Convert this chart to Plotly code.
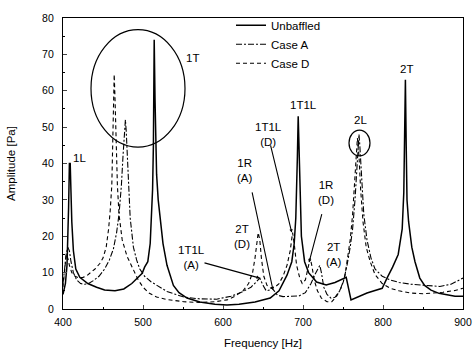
import plotly.graph_objects as go

unbaffled = [(400,4),(403,7),(405,12),(406,18),(407,28),(408,40),(409,40),(410,32),(411,24),(413,16),
             (416,11),(421,8.7),(431,7),(442,6),(452,5.2),(465,5),(476,5.5),(486,7),(493,8.5),(499,9.8),
             (502,11.5),(506,13),(509,18),(511,26),(512,33),(513,45),(514,74),(515,58),(516,45),(517,37),
             (519,30),(522,23),(525,18),(530,12),(534,9),(538,6.5),(545,4.5),(555,3),(571,1.9),(590,1.3),
             (605,1.1),(620,1.3),(640,1.9),(659,3),(670,5),(680,9.3),(686,13),(689,18),(691,25),(692,32),
             (693,42),(694,53),(695,44),(696,32),(698,20),(702,13),(707,10),(717,7.4),(729,6.6),(740,7.3),
             (748,8.2),(754,8.7),(760,2.5),(770,3.5),(780,4.4),(790,5.1),(799,5.7),(805,8.5),(812,11.5),(819,15),
             (824,22),(826,32),(827,45),(828,63),(829,45),(830,30),(832,24),(836,17),(840,13),(846,8.5),
             (852,6.5),(860,5.2),(870,4.3),(880,3.8),(890,3.5),(900,3.5)]

case_a = [(400,7),(402,11),(404,15),(406,17),(408,16),(410,13),(413,10),(417,8),(422,7),(427,6.8),
          (432,7),(438,7.8),(445,9),(452,11),(458,13.5),(463,16.5),(467,21),(470,26),(473,34),(475,42),
          (477,50),(478,52),(479,49),(481,38),(484,25),(488,17),(492,13.5),(496,11),(502,9),(510,7.5),
          (517,6.5),(530,4.8),(551,3.3),(570,2.8),(592,2.7),(610,3.5),(625,4.8),(635,6),(641,7.3),(646,8.5),
          (650,6.5),(654,5),(658,5.2),(661,5.8),(664,5),(668,3.8),(675,3.4),(685,3.4),(695,3.6),(703,4.5),
          (710,7),(715,9.5),(718,11),(721,12),(723,10),(726,6),(730,4),(735,3),(740,3.2),(746,5),
          (751,8),(755,12),(759,17),(762,22),(765,30),(767,37),(769,45),(770,48),(771,45),(773,36),
          (776,26),(780,19),(785,14),(790,11),(799,9),(809,8),(820,7.3),(835,6.8),(850,6.6),(871,6.2),
          (885,6.8),(895,7.8),(900,8.5)]

case_d = [(400,6),(402,10),(404,15),(406,14),(408,12),(411,10),(415,9),(420,8.5),(425,8.7),(430,9.2),
          (435,10),(440,11),(446,12.5),(450,14),(454,17),(457,22),(459,27),(461,34),(462,44),(463,56),
          (464,64.5),(465,58),(466,47),(468,34),(470,26),(474,19),(480,14.5),(488,11),(494,8),(500,6),
          (508,4.3),(517,3.3),(530,2.6),(551,2),(570,1.8),(590,2),(605,2.5),(615,3.5),(625,5),(632,7),
          (637,10),(640,14),(642,18),(644,21),(646,19),(648,14),(651,9),(655,6.5),(660,5.7),(665,6),
          (670,7),(675,9),(680,12),(684,16),(687,21),(689,18),(692,12),(696,8.5),(699,7),(703,8),
          (706,11),(709,14),(711,12),(714,8),(718,5),(723,3),(730,2),(736,2),(742,3.5),(748,6),
          (752,8.5),(756,14),(759,19),(762,26),(764,32),(766,40),(768,47),(770,42),(772,33),(775,24),
          (779,17),(784,13),(790,9.5),(799,7),(809,5.7),(820,5),(834,4.4),(850,4.2),(875,4.6),(890,5.1),
          (900,5.7)]

# mode labels: (text, freq, amplitude)
labels = [("1L", 420, 41.5), ("1T", 562, 69), ("1T1L", 701, 56), ("2L", 772, 52), ("2T", 829, 66),
          ("1T1L<br>(D)", 657, 48), ("1R<br>(A)", 627, 38), ("1R<br>(D)", 729, 32),
          ("2T<br>(A)", 739, 15), ("2T<br>(D)", 624, 20), ("1T1L<br>(A)", 561, 14.2)]

# pointer lines: (from f, from A, to f, to A)
pointers = [(575, 12.8, 646, 8.5), (636, 32.5, 662.5, 5.2), (659, 45.4, 686, 21), (724, 26.5, 707.5, 12.8)]

# circled regions: (f0, f1, A0, A1)
circles = [(435, 552.5, 44.5, 76.8), (757.5, 783.75, 42.1, 49.2)]

FONT = "Liberation Sans, Arial, sans-serif"
fig = go.Figure()
series = [("Unbaffled", unbaffled, "solid", 1.5), ("Case A", case_a, "6px,2px,2px,2px", 1.1),
          ("Case D", case_d, "4px,3px", 1.1)]
for name, pts, dash, w in series:
    fig.add_trace(go.Scatter(x=[p[0] for p in pts], y=[p[1] for p in pts], mode="lines", name=name,
                             line=dict(color="black", width=w, dash=dash)))

for t, fx, fy in labels:
    fig.add_annotation(x=fx, y=fy, text=t, showarrow=False, font=dict(family=FONT, size=11.5, color="black"),
                       xref="x", yref="y")
for x0, y0, x1, y1 in pointers:
    fig.add_annotation(x=x1, y=y1, ax=x0, ay=y0, axref="x", ayref="y", xref="x", yref="y", text="",
                       showarrow=True, arrowhead=2, arrowsize=0.6, arrowwidth=1.1, arrowcolor="black")
for x0, x1, y0, y1 in circles:
    fig.add_shape(type="circle", x0=x0, x1=x1, y0=y0, y1=y1, xref="x", yref="y",
                  line=dict(color="black", width=1.2))

fig.update_layout(
    width=474, height=350, margin=dict(l=63, r=11, t=16, b=41),
    paper_bgcolor="white", plot_bgcolor="white",
    font=dict(family=FONT, size=11, color="black"),
    showlegend=True,
    legend=dict(x=0.42, y=1.025, xanchor="left", yanchor="top", bgcolor="rgba(0,0,0,0)",
                font=dict(family=FONT, size=11.5, color="black"), tracegroupgap=0, itemwidth=30),
)
fig.update_xaxes(range=[400, 900], tickvals=[400, 500, 600, 700, 800, 900], ticks="inside", ticklen=4,
                 showline=True, linecolor="black", linewidth=1.2, mirror=True, showgrid=False, zeroline=False,
                 automargin=False, ticklabelstandoff=3,
                 minor=dict(dtick=50, ticks="inside", ticklen=2, tickcolor="black"),
                 title=dict(text="Frequency [Hz]", standoff=12, font=dict(family=FONT, size=11.5, color="black")),
                 tickfont=dict(family=FONT, size=10.5, color="black"))
fig.update_yaxes(range=[0, 80], tickvals=[0, 10, 20, 30, 40, 50, 60, 70, 80], ticks="inside", ticklen=4,
                 showline=True, linecolor="black", linewidth=1.2, mirror=True, showgrid=False, zeroline=False,
                 automargin=False, ticklabelstandoff=6,
                 minor=dict(dtick=5, ticks="inside", ticklen=2, tickcolor="black"),
                 title=dict(text="Amplitude [Pa]", standoff=24, font=dict(family=FONT, size=11.5, color="black")),
                 tickfont=dict(family=FONT, size=10.5, color="black"))
fig.write_html("out.html")
